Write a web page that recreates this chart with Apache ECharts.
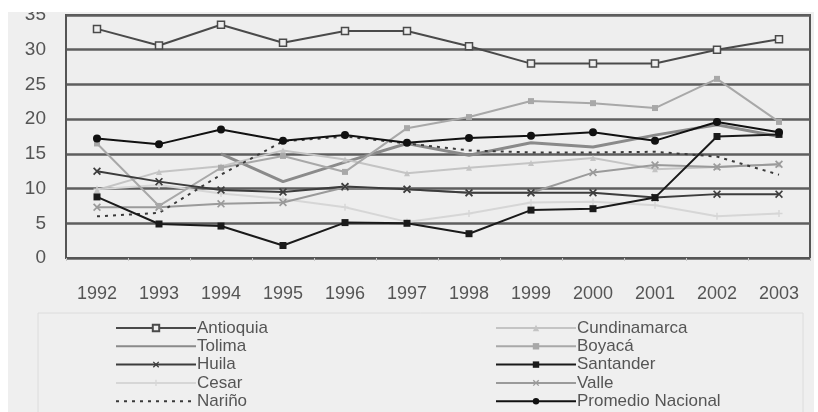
<!DOCTYPE html>
<html>
<head>
<meta charset="utf-8">
<script src="https://cdn.jsdelivr.net/npm/echarts@6/dist/echarts.min.js"></script>
<style>
  html, body { margin: 0; padding: 0; background: #ffffff; }
  #chart { width: 818px; height: 412px; }
</style>
</head>
<body>
<div id="chart"></div>
<script>
// años
const years = ['1992', '1993', '1994', '1995', '1996', '1997', '1998', '1999', '2000', '2001', '2002', '2003']

// valores por departamento
const antioquia = [33, 30.6, 33.6, 31, 32.7, 32.7, 30.5, 28, 28, 28, 30, 31.5]
const cundinamarca = [9.8, 12.4, 13.2, 15.5, 14.2, 12.2, 13, 13.7, 14.4, 12.8, 13.1, 13.5]
const tolima = [null, null, 15, 11, 13.8, 16.5, 14.8, 16.6, 16, 17.7, 19.2, 17.5]
const boyaca = [16.5, 7.5, 13, 14.7, 12.4, 18.7, 20.3, 22.6, 22.3, 21.6, 25.8, 19.6]
const huila = [12.5, 11, 9.8, 9.5, 10.3, 9.9, 9.4, 9.4, 9.4, 8.7, 9.2, 9.2]
const santander = [8.8, 4.9, 4.6, 1.8, 5.1, 5, 3.5, 6.9, 7.1, 8.7, 17.5, 17.8]
const cesar = [9.9, 10.5, 9.3, 8.5, 7.3, 5.2, 6.4, 8, 8.1, 7.6, 6, 6.4]
const valle = [7.3, 7.3, 7.8, 8, 10.2, 9.9, 9.4, 9.4, 12.3, 13.4, 13.1, 13.5]
const narino = [6, 6.5, 12, 16.8, 17.5, 16.5, 15.5, 15.2, 15.2, 15.3, 14.6, 12]
const promedio = [17.2, 16.4, 18.5, 16.9, 17.7, 16.6, 17.3, 17.6, 18.1, 16.9, 19.6, 18.1]

const yTicks = [0, 5, 10, 15, 20, 25, 30, 35]
const legendLeft = ['Antioquia', 'Tolima', 'Huila', 'Cesar', 'Nariño']
const legendRight = ['Cundinamarca', 'Boyacá', 'Santander', 'Valle', 'Promedio Nacional']
const noMarker = ['Tolima', 'Nariño']

const X_SYMBOL = 'path://M0,1.5L1.5,0L5,3.5L8.5,0L10,1.5L6.5,5L10,8.5L8.5,10L5,6.5L1.5,10L0,8.5L3.5,5Z'
const PLUS_SYMBOL = 'path://M4,0H6V4H10V6H6V10H4V6H0V4H4Z'
const FONT = '"Liberation Sans", Arial, sans-serif'

const mkLine = (name, data, color, width, symbol, symbolSize, extra) => Object.assign({
  name,
  type: 'line',
  data,
  symbol,
  symbolSize,
  showSymbol: symbol !== 'none',
  connectNulls: false,
  animation: false,
  lineStyle: { color, width },
  itemStyle: { color, borderColor: color, borderWidth: 0 }
}, extra || {})

const series = [
  mkLine('Tolima', tolima, '#8a8a8a', 3, 'none', 0),
  mkLine('Cesar', cesar, '#d6d6d6', 2, PLUS_SYMBOL, 7),
  mkLine('Cundinamarca', cundinamarca, '#c4c4c4', 2, 'triangle', 6),
  mkLine('Valle', valle, '#9a9a9a', 2, X_SYMBOL, 8),
  mkLine('Boyacá', boyaca, '#a8a8a8', 2, 'rect', 6),
  mkLine('Nariño', narino, '#3a3a3a', 2, 'none', 0, {
    lineStyle: { color: '#3a3a3a', width: 2, type: [3, 5] }
  }),
  mkLine('Huila', huila, '#3c3c3c', 2, X_SYMBOL, 8),
  mkLine('Santander', santander, '#1a1a1a', 2, 'rect', 7),
  mkLine('Promedio Nacional', promedio, '#111111', 2, 'circle', 8),
  mkLine('Antioquia', antioquia, '#4a4a4a', 2, 'rect', 7, {
    itemStyle: { color: '#eeeeee', borderColor: '#4a4a4a', borderWidth: 1.5 }
  })
]

const legendText = { color: '#555', fontFamily: FONT, fontSize: 17, lineHeight: 18, padding: [0, 0, 0, -4] }
const legendItems = names => names.map(n => (noMarker.includes(n) ? { name: n, itemStyle: { opacity: 0 } } : n))
const mkLegend = (names, left) => ({
  data: legendItems(names),
  orient: 'vertical', left, top: 314, height: 200,
  itemWidth: 80, itemHeight: 8, itemGap: 0.3,
  textStyle: legendText, selectedMode: false
})

const chart = echarts.init(document.getElementById('chart'), null, { renderer: 'canvas' })
chart.setOption({
  animation: false,
  backgroundColor: '#ffffff',
  graphic: [
    { type: 'rect', z: -100, silent: true, shape: { x: 8, y: 12, width: 806, height: 400 }, style: { fill: '#efefef' } },
    { type: 'rect', z: -90, silent: true, shape: { x: 38, y: 313, width: 765, height: 110 }, style: { fill: '#efefef', stroke: '#dcdcdc', lineWidth: 1 } },
    { type: 'rect', z: 100, silent: true, shape: { x: 0, y: 0, width: 818, height: 12 }, style: { fill: '#ffffff' } }
  ],
  grid: {
    left: 66, right: 8, top: 15, bottom: 154,
    show: true, backgroundColor: '#eeeeee', borderColor: '#555', borderWidth: 2
  },
  legend: [mkLegend(legendLeft, 110), mkLegend(legendRight, 490)],
  xAxis: {
    type: 'category',
    data: years,
    boundaryGap: true,
    axisLine: { lineStyle: { color: '#555', width: 2 } },
    axisTick: { show: true, length: 3, lineStyle: { color: '#c8c8c8' } },
    axisLabel: { color: '#555', fontFamily: FONT, fontSize: 18, margin: 27 }
  },
  yAxis: {
    type: 'value',
    min: yTicks[0],
    max: yTicks[yTicks.length - 1],
    interval: 5,
    axisLine: { show: true, lineStyle: { color: '#555', width: 2 } },
    axisTick: { show: false },
    axisLabel: { color: '#555', fontFamily: FONT, fontSize: 19, margin: 20 },
    splitLine: { lineStyle: { color: '#5e5e5e', width: 2.5 } }
  },
  series
})
</script>
</body>
</html>
